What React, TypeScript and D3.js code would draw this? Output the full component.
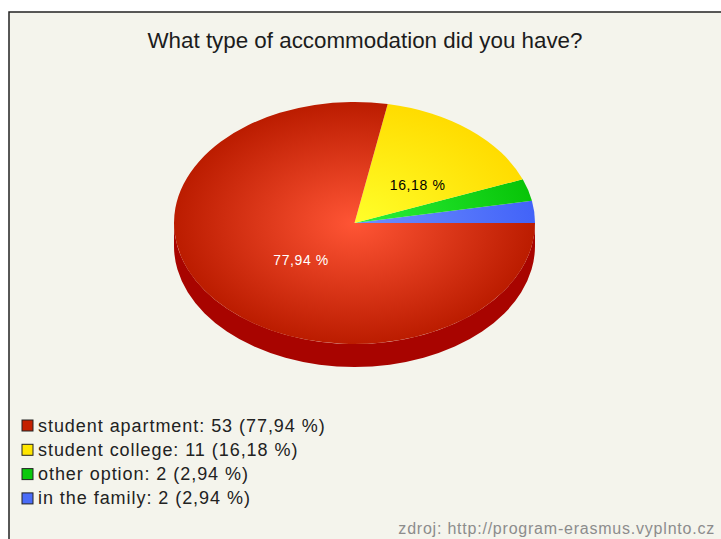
import React from "react";
import * as d3 from "d3";

const categories = ["in the family", "other option", "student college", "student apartment"];
const counts = [2, 2, 11, 53];
const percentLabels = ["2,94", "2,94", "16,18", "77,94"];
const innerColors = ["#6f8fff", "#2cf23c", "#ffff2a", "#ff5535"];
const outerColors = ["#4263f8", "#08c408", "#ffdc00", "#bb1c00"];
const legendColors = ["#4a6cf8", "#0cc80c", "#ffe600", "#c42000"];
const legendOrder = [3, 2, 1, 0];
const titleText = "What type of accommodation did you have?";
const sourceText = "zdroj: http://program-erasmus.vyplnto.cz";

const W = 721, H = 539;
const cx = 354.5, cy = 223, rx = 180.5, ry = 121, depth = 23;
const font = "'Liberation Sans', Arial, sans-serif";

export default function App() {
  const pie = d3.pie<number>().sort(null)
    .startAngle(Math.PI / 2).endAngle(Math.PI / 2 - 2 * Math.PI);
  const arcs = pie(counts);
  const arc = d3.arc<d3.PieArcDatum<number>>().innerRadius(0).outerRadius(1);
  const labelPos = (i: number) => {
    const a = (arcs[i].startAngle + arcs[i].endAngle) / 2;
    return [cx + rx * 0.5 * Math.sin(a), cy - ry * 0.5 * Math.cos(a)];
  };
  const sidePath = `M${cx - rx},${cy} A${rx},${ry} 0 0 0 ${cx + rx},${cy} L${cx + rx},${cy + depth} A${rx},${ry} 0 0 1 ${cx - rx},${cy + depth} Z`;
  const [lx3, ly3] = labelPos(3);
  const [lx2, ly2] = labelPos(2);
  return (
    <svg width={W} height={H} style={{ position: "absolute", left: 0, top: 0, display: "block" }}>
      <defs>
        {arcs.map((_, i) => (
          <radialGradient key={i} id={`g${i}`} gradientUnits="userSpaceOnUse" cx={0} cy={0} r={1}>
            <stop offset="0%" stopColor={innerColors[i]} />
            <stop offset="100%" stopColor={outerColors[i]} />
          </radialGradient>
        ))}
      </defs>
      <rect width={W} height={H} fill="#ffffff" />
      <rect x={9} y={12} width={W + 20} height={H + 20} fill="#f4f4ec" stroke="#222" strokeWidth={1.5} />
      <text x={365} y={48} textAnchor="middle" fontFamily={font} fontSize={22} fill="#1c1c1c" textLength={435} lengthAdjust="spacingAndGlyphs">{titleText}</text>
      <path d={sidePath} fill="#a80400" />
      <g transform={`translate(${cx},${cy}) scale(${rx},${ry})`}>
        {arcs.map((d, i) => (
          <path key={i} d={arc(d) ?? ""} fill={`url(#g${i})`} />
        ))}
      </g>
      <text x={lx3} y={ly3 + 3} dx={16} textAnchor="middle" fontFamily={font} fontSize={14} letterSpacing={0.6} fill="#ffffff">{percentLabels[3]} %</text>
      <text x={lx2} y={ly2 + 14} dx={5.5} textAnchor="middle" fontFamily={font} fontSize={14} letterSpacing={0.6} fill="#000000">{percentLabels[2]} %</text>
      {legendOrder.map((idx, row) => (
        <g key={idx} transform={`translate(22,${420 + row * 24.3})`}>
          <rect x={0} y={0} width={11} height={11} fill={legendColors[idx]} stroke="#222" strokeWidth={1} />
          <text x={16} y={11.5} fontFamily={font} fontSize={18} fill="#222" letterSpacing={0.95}>
            {`${categories[idx]}: ${counts[idx]} (${percentLabels[idx]} %)`}
          </text>
        </g>
      ))}
      <text x={715} y={534} textAnchor="end" fontFamily={font} fontSize={16} fill="#8c8c8c" letterSpacing={0.78}>{sourceText}</text>
    </svg>
  );
}
